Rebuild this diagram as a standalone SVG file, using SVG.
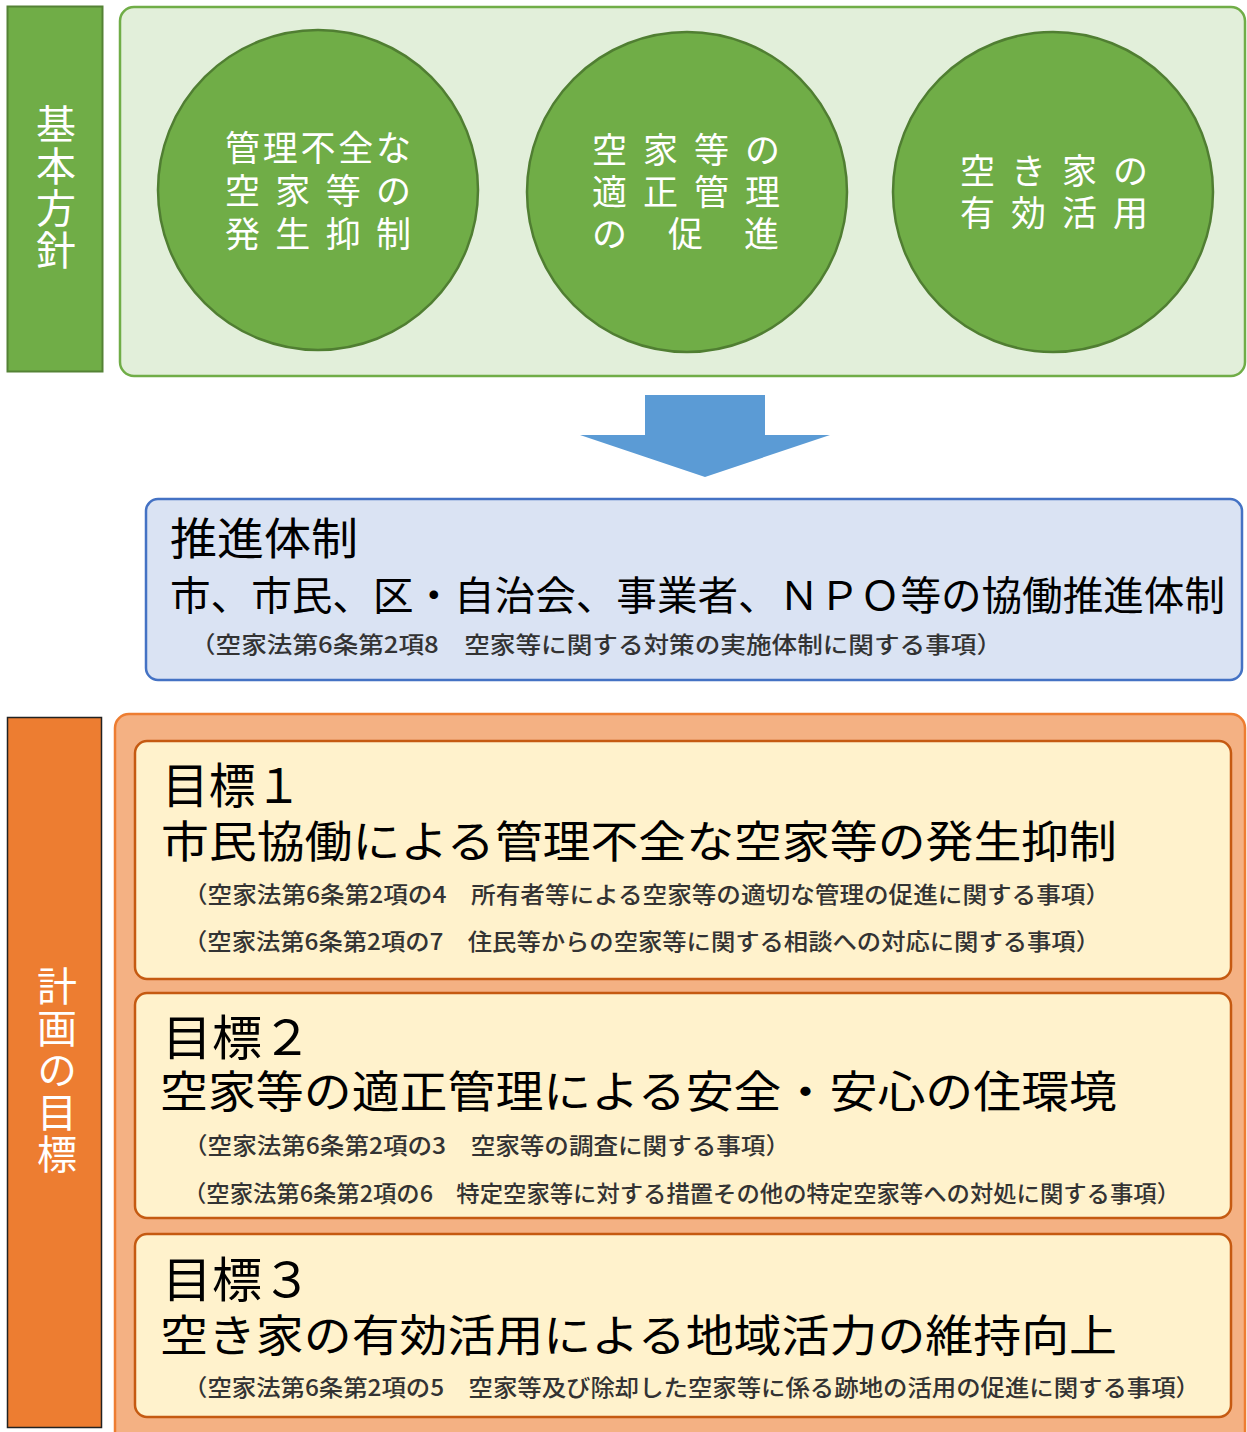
<svg xmlns="http://www.w3.org/2000/svg" width="1247" height="1432" viewBox="0 0 1247 1432">
<defs>
<style>
text{font-family:"Noto Sans CJK JP","Noto Sans",sans-serif;}
.vlab{fill:#fff;font-size:40px;writing-mode:vertical-rl;letter-spacing:2px;}
.circ{fill:#70AD47;stroke:#507E32;stroke-width:2.5;}
.ctxt{fill:#fff;font-size:35px;}
.h1{fill:#000;font-size:48px;}
.h2{fill:#000;font-size:44px;}
.sub{fill:#333;font-size:23px;font-weight:500;}
.goal{fill:#FFF2CC;stroke:#C55A11;stroke-width:2.5;}
</style>
</defs>
<rect x="0" y="0" width="1247" height="1432" fill="#fff"/>

<g id="basic-policy-label">
<rect x="7.5" y="6.5" width="95" height="365" fill="#70AD47" stroke="#548235" stroke-width="2"/>
<text class="vlab" x="56" y="104">基本方針</text>
</g>

<g id="basic-policy">
<rect x="120" y="7" width="1125" height="369" rx="14" fill="#E2EFDA" stroke="#70AD47" stroke-width="2.5"/>
</g>

<g id="policy1">
<circle class="circ" cx="318" cy="190" r="160"/>
<text class="ctxt"><tspan x="225" y="161" textLength="186" lengthAdjust="spacing">管理不全な</tspan><tspan x="225" y="204" textLength="186" lengthAdjust="spacing">空家等の</tspan><tspan x="225" y="247" textLength="186" lengthAdjust="spacing">発生抑制</tspan></text>
</g>

<g id="policy2">
<ellipse class="circ" cx="687" cy="192" rx="160" ry="160"/>
<text class="ctxt"><tspan x="592" y="163" textLength="188" lengthAdjust="spacing">空家等の</tspan><tspan x="592" y="205" textLength="188" lengthAdjust="spacing">適正管理</tspan><tspan x="592" y="247">の</tspan><tspan x="668" y="247">促</tspan><tspan x="744" y="247">進</tspan></text>
</g>

<g id="policy3">
<circle class="circ" cx="1053" cy="192" r="160"/>
<text class="ctxt"><tspan x="960" y="184" textLength="188" lengthAdjust="spacing">空き家の</tspan><tspan x="960" y="226" textLength="188" lengthAdjust="spacing">有効活用</tspan></text>
</g>

<g id="connectors">
<polygon points="645,395 765,395 765,435 830,435 705,477 580,435 645,435" fill="#5B9BD5"/>
</g>

<g id="promotion">
<rect x="146" y="499" width="1096" height="181" rx="12" fill="#DAE3F3" stroke="#4472C4" stroke-width="2.5"/>
<text class="h2" x="170" y="555" textLength="188" lengthAdjust="spacingAndGlyphs">推進体制</text>
<text x="170" y="610" font-size="40" fill="#000" textLength="1055" lengthAdjust="spacingAndGlyphs">市、市民、区・自治会、事業者、ＮＰＯ等の協働推進体制</text>
<text class="sub" x="190" y="653" textLength="812" lengthAdjust="spacingAndGlyphs">（空家法第6条第2項8　空家等に関する対策の実施体制に関する事項）</text>
</g>

<g id="plan-goals-label">
<rect x="7.5" y="717.5" width="94" height="710" fill="#ED7D31" stroke="#222" stroke-width="1.5"/>
<text class="vlab" x="57" y="966">計画の目標</text>
</g>

<g id="plan-goals">
<rect x="115" y="714" width="1130" height="740" rx="14" fill="#F4B183" stroke="#ED7D31" stroke-width="2.5"/>
</g>

<g id="goal1">
<rect class="goal" x="135" y="741" width="1096" height="238" rx="12"/>
<text class="h1" x="162" y="803" textLength="140" lengthAdjust="spacingAndGlyphs">目標１</text>
<text class="h2" x="161" y="858" textLength="956" lengthAdjust="spacingAndGlyphs">市民協働による管理不全な空家等の発生抑制</text>
<text class="sub" x="183" y="903" textLength="927" lengthAdjust="spacingAndGlyphs">（空家法第6条第2項の4　所有者等による空家等の適切な管理の促進に関する事項）</text>
<text class="sub" x="183" y="950" textLength="917" lengthAdjust="spacingAndGlyphs">（空家法第6条第2項の7　住民等からの空家等に関する相談への対応に関する事項）</text>
</g>

<g id="goal2">
<rect class="goal" x="135" y="993" width="1096" height="225" rx="12"/>
<text class="h1" x="162" y="1055" textLength="150" lengthAdjust="spacingAndGlyphs">目標２</text>
<text class="h2" x="160" y="1108" textLength="957" lengthAdjust="spacingAndGlyphs">空家等の適正管理による安全・安心の住環境</text>
<text class="sub" x="183" y="1154" textLength="607" lengthAdjust="spacingAndGlyphs">（空家法第6条第2項の3　空家等の調査に関する事項）</text>
<text class="sub" x="183" y="1202" textLength="997" lengthAdjust="spacingAndGlyphs">（空家法第6条第2項の6　特定空家等に対する措置その他の特定空家等への対処に関する事項）</text>
</g>

<g id="goal3">
<rect class="goal" x="135" y="1234" width="1096" height="183" rx="12"/>
<text class="h1" x="162" y="1297" textLength="150" lengthAdjust="spacingAndGlyphs">目標３</text>
<text class="h2" x="160" y="1352" textLength="957" lengthAdjust="spacingAndGlyphs">空き家の有効活用による地域活力の維持向上</text>
<text class="sub" x="183" y="1396" textLength="1017" lengthAdjust="spacingAndGlyphs">（空家法第6条第2項の5　空家等及び除却した空家等に係る跡地の活用の促進に関する事項）</text>
</g>
</svg>
